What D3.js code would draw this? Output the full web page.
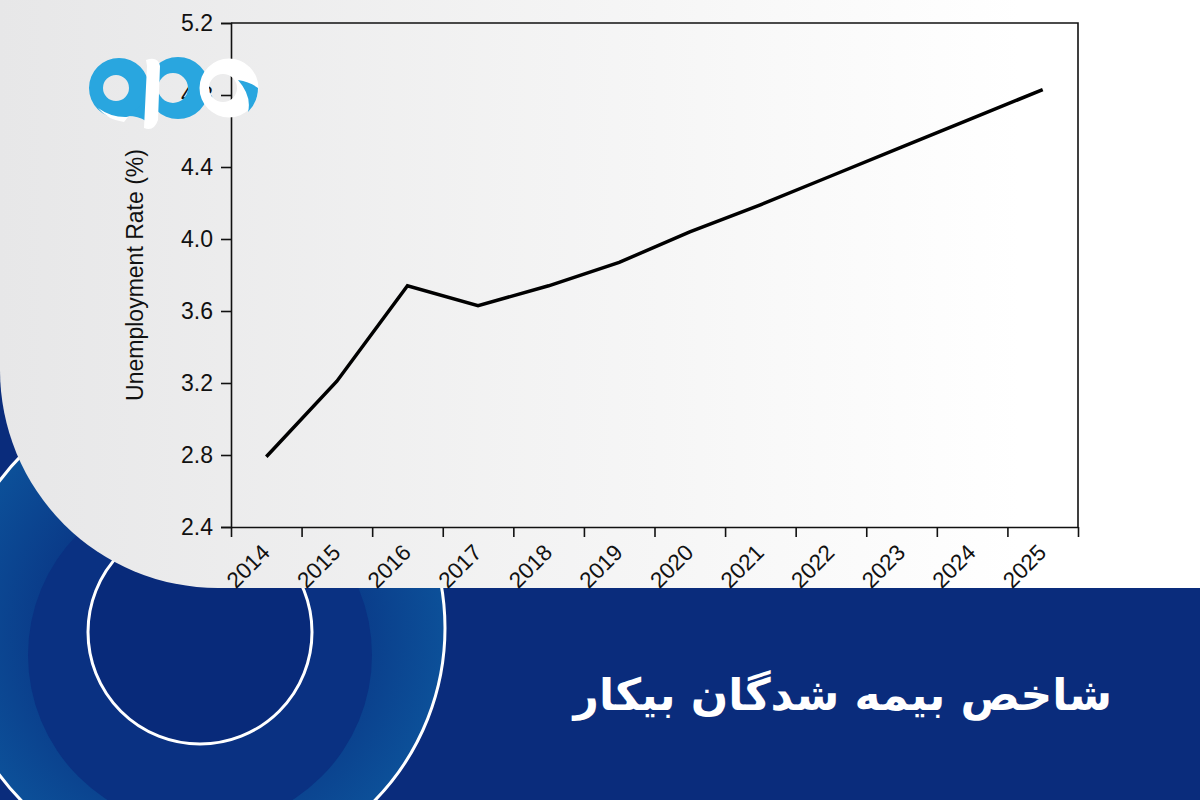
<!DOCTYPE html>
<html>
<head>
<meta charset="utf-8">
<script src="https://cdn.jsdelivr.net/npm/d3@7/dist/d3.min.js"></script>
<style>
  html, body { margin: 0; padding: 0; background: #0a2c7c; }
  svg { display: block; }
</style>
</head>
<body>
<svg id="chart" width="1200" height="800"></svg>
<script>
// ---- data ----
const years = ["2014","2015","2016","2017","2018","2019","2020","2021","2022","2023","2024","2025"];
const rates = [2.79, 3.21, 3.74, 3.63, 3.74, 3.87, 4.04, 4.19, 4.35, 4.51, 4.67, 4.83];
const yTicks = [2.4, 2.8, 3.2, 3.6, 4.0, 4.4, 4.8, 5.2];
const yDomain = [2.4, 5.2];
const yTitle = "Unemployment Rate (%)";
const pageTitle = "شاخص بیمه شدگان بیکار";

(function () {
const svg = d3.select("#chart");
const W = 1200, H = 800;
const defs = svg.append("defs");

// ---- background ----
svg.append("rect").attr("width", W).attr("height", H).attr("fill", "#0a2c7c");

// decorative circles (left bottom)
const rg = defs.append("radialGradient").attr("id", "ringGrad")
  .attr("cx", 0.5).attr("cy", 0.5).attr("r", 0.5);
rg.append("stop").attr("offset", "0.6").attr("stop-color", "#0a3a88");
rg.append("stop").attr("offset", "1").attr("stop-color", "#0c5099");
svg.append("circle").attr("cx", 198).attr("cy", 628).attr("r", 247)
  .attr("fill", "url(#ringGrad)").attr("stroke", "#ffffff").attr("stroke-width", 3);
svg.append("circle").attr("cx", 200).attr("cy", 655).attr("r", 172)
  .attr("fill", "#0a3182");
svg.append("circle").attr("cx", 200).attr("cy", 632).attr("r", 112)
  .attr("fill", "#082a7a").attr("stroke", "#ffffff").attr("stroke-width", 3);

// light panel with rounded bottom-left corner
const lg = defs.append("linearGradient").attr("id", "panelGrad")
  .attr("x1", 0).attr("y1", 0).attr("x2", 1).attr("y2", 0);
lg.append("stop").attr("offset", "0").attr("stop-color", "#e7e7e8");
lg.append("stop").attr("offset", "0.55").attr("stop-color", "#f6f6f6");
lg.append("stop").attr("offset", "0.85").attr("stop-color", "#ffffff");
const panelBottom = 588, cr = 218;
svg.append("path")
  .attr("d", `M0,0 H${W} V${panelBottom} H${cr} A${cr},${cr} 0 0 1 0,${panelBottom - cr} Z`)
  .attr("fill", "url(#panelGrad)");

// ---- chart ----
const pLeft = 231, pRight = 1078, pTop = 23, pBottom = 527;
const x = d3.scaleBand().domain(years).range([pLeft, pRight]).padding(0);
const y = d3.scaleLinear().domain(yDomain).range([pBottom, pTop]);
const font = "'Liberation Sans', Arial, sans-serif";

const g = svg.append("g");

// y axis
const yAxis = g.append("g").attr("transform", `translate(${pLeft},0)`)
  .call(d3.axisLeft(y).tickValues(yTicks).tickFormat(d3.format(".1f")).tickSize(10).tickPadding(8));
yAxis.selectAll("text").attr("font-family", font).attr("font-size", 23).attr("fill", "#111");
yAxis.selectAll("line, path").attr("stroke", "#111").attr("stroke-width", 1.6);

// x axis: ticks at band boundaries
const edges = years.map(d => x(d)).concat([pRight]);
const xAxis = g.append("g").attr("transform", `translate(0,${pBottom})`)
  .call(d3.axisBottom(d3.scaleIdentity()).tickValues(edges).tickFormat("").tickSize(10).tickSizeOuter(0));
xAxis.selectAll("line, path").attr("stroke", "#111").attr("stroke-width", 1.6);
xAxis.select("path.domain").attr("d", `M${pLeft},0.5H${pRight}`);

g.selectAll("text.xlab").data(years).join("text")
  .attr("class", "xlab")
  .attr("transform", d => `translate(${x(d) + x.bandwidth() / 2 + 5},${pBottom + 27}) rotate(-45)`)
  .attr("text-anchor", "end")
  .attr("font-family", font).attr("font-size", 22.5).attr("fill", "#111")
  .text(d => d);

// box top & right
g.append("path")
  .attr("d", `M${pLeft},${pTop}H${pRight}V${pBottom}`)
  .attr("fill", "none").attr("stroke", "#111").attr("stroke-width", 1.6);

// y title
g.append("text")
  .attr("transform", `translate(143,275) rotate(-90)`)
  .attr("text-anchor", "middle")
  .attr("font-family", font).attr("font-size", 23).attr("fill", "#111")
  .text(yTitle);

// line
const line = d3.line().x((d, i) => x(years[i]) + x.bandwidth() / 2).y(d => y(d));
g.append("path").datum(rates)
  .attr("d", line)
  .attr("fill", "none").attr("stroke", "#000").attr("stroke-width", 3.5)
  .attr("stroke-linejoin", "miter");

// ---- logo ----
const logo = svg.append("g");
const blue = "#29a6df";
function ring(cx, cy, R, r, hx, hy) {
  return `M${cx - R},${cy}a${R},${R} 0 1 0 ${2 * R},0a${R},${R} 0 1 0 ${-2 * R},0Z` +
         `M${hx - r},${hy}a${r},${r} 0 1 0 ${2 * r},0a${r},${r} 0 1 0 ${-2 * r},0Z`;
}
// first "a"
logo.append("path").attr("d", ring(119, 88, 30, 13, 116, 88))
  .attr("fill", blue).attr("fill-rule", "evenodd");
logo.append("path").attr("d", "M138,108 L150,96 L146,121 Q138,116 128,116 Z").attr("fill", blue);
logo.append("path").attr("d", "M98,108 Q112,118 128,117 L124,122 Q108,120 98,108 Z").attr("fill", "#ffffff");
// "p"
logo.append("path").attr("d", ring(178, 88, 31, 15, 173, 88))
  .attr("fill", blue).attr("fill-rule", "evenodd");
logo.append("path").attr("d", "M146,60 Q158,56 160,66 L158,120 Q154,132 144,128 L147,66 Z").attr("fill", "#ffffff");
// third (white) ring
logo.append("path").attr("d", ring(229, 88, 29.5, 14, 223, 88))
  .attr("fill", "#ffffff").attr("fill-rule", "evenodd");
logo.append("path").attr("d", "M238,80 Q250,82 258,88 Q258,102 248,112 Q252,96 238,80 Z").attr("fill", blue);

// ---- page title ----
svg.append("text")
  .attr("x", 1112).attr("y", 710)
  .attr("text-anchor", "start")
  .attr("direction", "rtl")
  .attr("font-family", "'DejaVu Sans', sans-serif")
  .attr("font-weight", "bold")
  .attr("font-size", 44)
  .attr("fill", "#ffffff")
  .text(pageTitle);
})();
</script>
</body>
</html>
